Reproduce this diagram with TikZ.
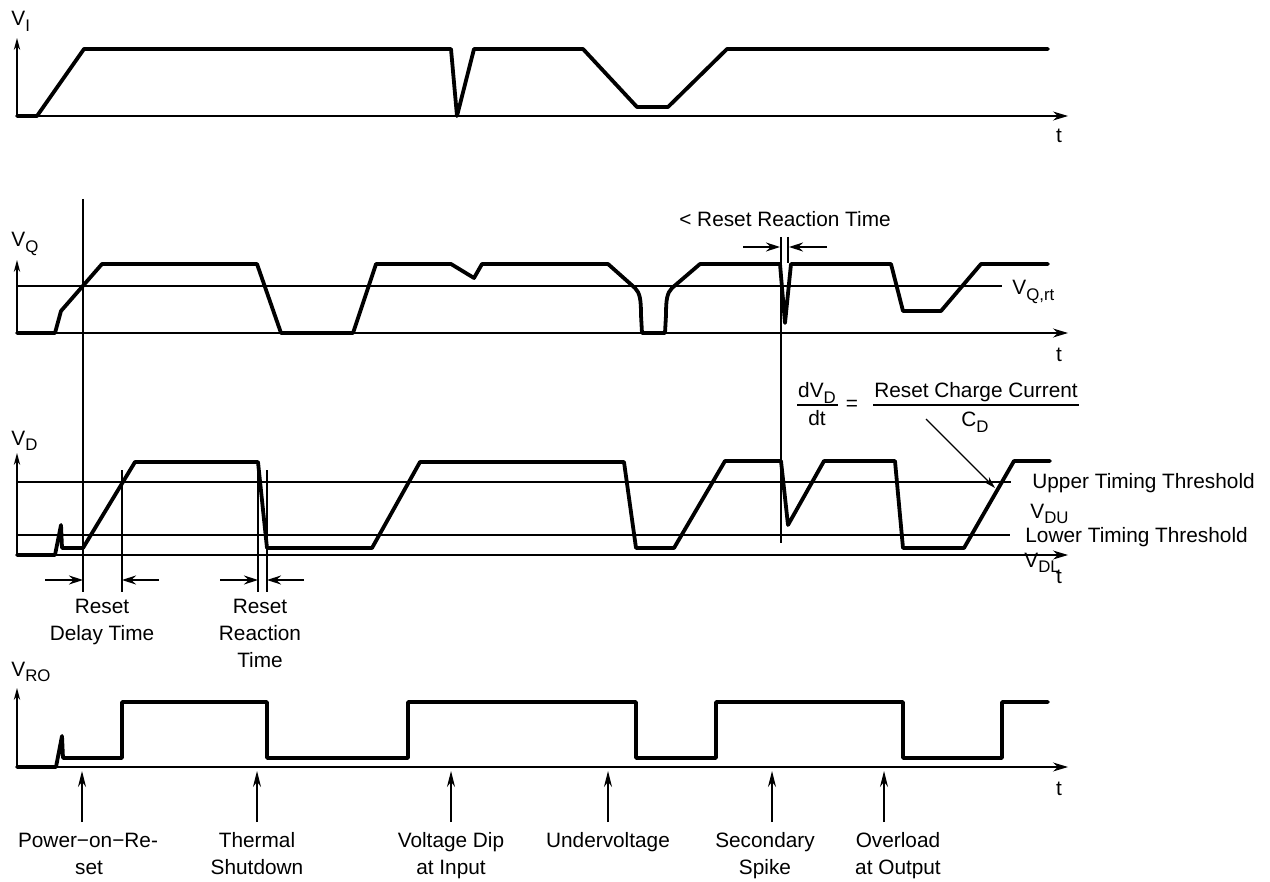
\documentclass[tikz,border=0pt]{standalone}
\usepackage{fontspec}
\setmainfont{Liberation Sans}
\usetikzlibrary{arrows.meta}
\newcommand\lowsub[1]{\raisebox{-2.6pt}{\fontsize{8.4}{9}\selectfont #1}}
\begin{document}
\begin{tikzpicture}[x=0.5pt,y=-0.5pt,
  wave/.style={line width=1.9pt,line join=round,line cap=round},
  thin/.style={line width=0.6pt},
  yax/.style={thin,-{Stealth[length=6pt,width=3.2pt]}},
  tax/.style={thin,-{Stealth[length=7.5pt,width=4.5pt]}},
  dimarr/.style={thin,-{Stealth[length=7pt,width=4.5pt]}},
  evarr/.style={thin,-{Stealth[length=8pt,width=4pt]}},
  lbl/.style={font=\fontsize{10.4}{12.5}\selectfont,inner sep=0pt}]
\useasboundingbox (0,0) rectangle (1270,882);

% ---------- V_I ----------
\coordinate (viO) at (17,116);
\draw[yax] (viO) -- (17,38);
\draw[tax] (viO) -- (1068,116);
\node[lbl,anchor=base west] (vilab) at (11,26) {V\lowsub{I}};
\node[lbl,anchor=base] (vit) at (1059,143) {t};
\draw[wave] (17,116) -- (37,116) -- (84,49) -- (451,49) -- (457,116) -- (474,49) -- (583,49)
  -- (637,107) -- (668,107) -- (727,49) -- (1048,49);

% ---------- V_Q ----------
\coordinate (vqO) at (17,333);
\draw[yax] (vqO) -- (17,260);
\draw[tax] (vqO) -- (1068,333);
\draw[thin] (17,286) -- (1002,286);
\node[lbl,anchor=base west] (vqlab) at (11,247) {V\lowsub{Q}};
\node[lbl,anchor=base west] (vqrt) at (1012,295) {V\lowsub{Q,rt}};
\node[lbl,anchor=base] (vqt) at (1059,362) {t};
\draw[wave] (17,333) -- (55,333) -- (61,311) -- (102,264) -- (257,264) -- (281,333) -- (353,333)
  -- (376,264) -- (451,264) -- (474,278) -- (482,264) -- (608,264) -- (635,288)
  .. controls (640,293) and (641,300) .. (641,315) -- (642,333) -- (665,333) -- (666,315)
  .. controls (666,300) and (667,293) .. (672,288) -- (700,264) -- (780,264) -- (785,323)
  -- (791,264) -- (891,264) -- (903,311) -- (941,311) -- (981,264) -- (1048,264);
\node[lbl,anchor=base] (rrt) at (785,227) {< Reset Reaction Time};
\draw[thin] (781,237) -- (781,543);
\draw[thin] (788,237) -- (788,263);
\draw[dimarr] (743,247) -- (780,247);
\draw[dimarr] (827,247) -- (789,247);

% ---------- V_D ----------
\coordinate (vdO) at (17,555);
\draw[yax] (vdO) -- (17,453);
\draw[tax] (vdO) -- (1068,555);
\draw[thin] (17,482) -- (1011,482);
\draw[thin] (17,535) -- (1010,535);
\node[lbl,anchor=base west] (vdlab) at (11,445) {V\lowsub{D}};
\node[lbl,anchor=base west] (upper) at (1032,488) {Upper Timing Threshold};
\node[lbl,anchor=base west] (vdu) at (1030,518) {V\lowsub{DU}};
\node[lbl,anchor=base west] (lower) at (1025,542) {Lower Timing Threshold};
\node[lbl,anchor=base west] (vdl) at (1024,567) {V\lowsub{DL}};
\node[lbl,anchor=base] (vdt) at (1059,583) {t};
\draw[wave] (17,555) -- (55,555) -- (61,525) -- (62,548) -- (83,548) -- (135,462) -- (258,462)
  -- (267,548) -- (372,548) -- (420,462) -- (624,462) -- (636,548) -- (674,548) -- (725,461)
  -- (781,461) -- (788,525) -- (824,461) -- (895,461) -- (903,548) -- (964,548) -- (1014,461)
  -- (1050,461);
% formula
\node[lbl,anchor=base] (dvd) at (817,398) {dV\lowsub{D}};
\draw[thin] (797,405) -- (838,405);
\node[lbl,anchor=base] (dt) at (817,425) {dt};
\node[lbl] (eq) at (852,405) {=};
\node[lbl,anchor=base] (rcc) at (976,398) {Reset Charge Current};
\draw[thin] (873,405) -- (1079,405);
\node[lbl,anchor=base] (cd) at (975,427) {C\lowsub{D}};
\coordinate (fa) at (926,419);
\coordinate (fb) at (995,488);
\draw[thin,-{Stealth[length=6pt,width=3.5pt]}] (fa) -- (fb);
% time markers
\draw[thin] (83,199) -- (83,592);
\draw[thin] (122,470) -- (122,592);
\draw[thin] (258,462) -- (258,592);
\draw[thin] (267,470) -- (267,592);
\draw[dimarr] (45,580) -- (83,580);
\draw[dimarr] (159,580) -- (122,580);
\draw[dimarr] (220,580) -- (258,580);
\draw[dimarr] (304,580) -- (267,580);
\node[lbl,anchor=base] (rd1) at (102,613) {Reset};
\node[lbl,anchor=base] (rd2) at (102,640) {Delay Time};
\node[lbl,anchor=base] (rr1) at (260,613) {Reset};
\node[lbl,anchor=base] (rr2) at (260,640) {Reaction};
\node[lbl,anchor=base] (rr3) at (260,667) {Time};

% ---------- V_RO ----------
\coordinate (vroO) at (17,767);
\draw[yax] (vroO) -- (17,688);
\draw[tax] (vroO) -- (1068,767);
\node[lbl,anchor=base west] (vrolab) at (11,676) {V\lowsub{RO}};
\node[lbl,anchor=base] (vrot) at (1059,795) {t};
\draw[wave] (17,767) -- (56,767) -- (62,736) -- (63,758) -- (122,758) -- (122,702) -- (267,702)
  -- (267,758) -- (408,758) -- (408,702) -- (636,702) -- (636,758) -- (716,758) -- (716,702)
  -- (903,702) -- (903,758) -- (1002,758) -- (1002,702) -- (1048,702);
% events
\foreach \x/\n in {82/e1,257/e2,451/e3,608/e4,772/e5,884/e6}{
  \coordinate (\n a) at (\x,822);
  \coordinate (\n b) at (\x,771);
  \draw[evarr] (\n a) -- (\n b);
}
\node[lbl,anchor=base] (p1) at (88,847) {Power−on−Re-};
\node[lbl,anchor=base] (p2) at (89,874) {set};
\node[lbl,anchor=base] (t1) at (257,847) {Thermal};
\node[lbl,anchor=base] (t2) at (257,874) {Shutdown};
\node[lbl,anchor=base] (v1) at (451,847) {Voltage Dip};
\node[lbl,anchor=base] (v2) at (451,874) {at Input};
\node[lbl,anchor=base] (u1) at (608,847) {Undervoltage};
\node[lbl,anchor=base] (s1) at (765,847) {Secondary};
\node[lbl,anchor=base] (s2) at (765,874) {Spike};
\node[lbl,anchor=base] (o1) at (898,847) {Overload};
\node[lbl,anchor=base] (o2) at (898,874) {at Output};
\end{tikzpicture}
\end{document}
